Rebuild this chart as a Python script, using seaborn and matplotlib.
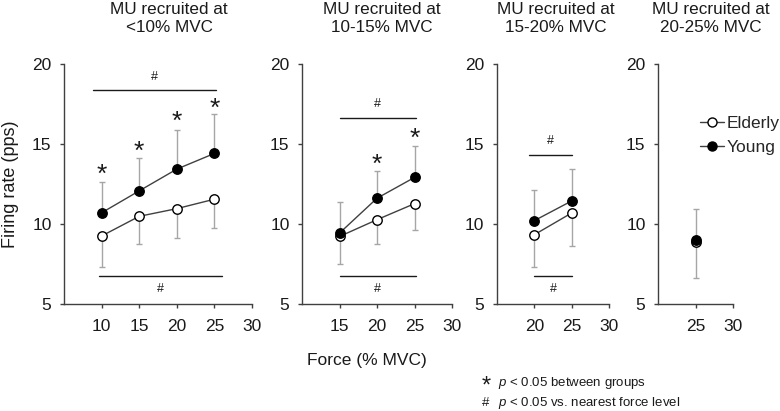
import numpy as np
import pandas as pd
import matplotlib
matplotlib.use("Agg")
import matplotlib.pyplot as plt
import seaborn as sns
from matplotlib.lines import Line2D

# 数据
panel_titles = ["MU recruited at\n<10% MVC", "MU recruited at\n10-15% MVC",
                "MU recruited at\n15-20% MVC", "MU recruited at\n20-25% MVC"]
force_levels = [[10, 15, 20, 25], [15, 20, 25], [20, 25], [25]]
x_limits = [(5, 30), (10, 30), (15, 30), (20, 30)]
young_mean = [[10.7, 12.07, 13.43, 14.41], [9.43, 11.61, 12.91], [10.21, 11.44], [9.01]]
young_sd = [[1.92, 2.07, 2.47, 2.47], [1.97, 1.69, 1.95], [1.92, 2.01], [1.93]]
elderly_mean = [[9.25, 10.48, 10.96, 11.55], [9.22, 10.27, 11.27], [9.33, 10.69], [8.85]]
elderly_sd = [[1.93, 1.76, 1.84, 1.78], [1.73, 1.55, 1.67], [2.01, 2.07], [2.22]]

# 组间差异 (*) 的位置
star_x = [[10, 15, 20, 25], [20, 25], [], []]
star_y = [[13.15, 14.6, 16.5, 17.3], [13.8, 15.44], [], []]

# 与相邻力水平差异 (#) 的横线: (x0, x1, y, 文字y)
hash_top = [(8.9, 25.2, 18.35, 19.2), (15.0, 25.2, 16.6, 17.5), (19.3, 25.0, 14.29, 15.2), None]
hash_bottom = [(9.7, 26.0, 6.74, 5.94), (15.0, 25.2, 6.74, 5.94), (20.0, 25.0, 6.74, 5.94), None]

# 样式
sns.set_style("ticks")
plt.rcParams['font.family'] = ['Liberation Sans', 'DejaVu Sans']
plt.rcParams['mathtext.fontset'] = 'custom'
plt.rcParams['mathtext.rm'] = 'Liberation Sans'
plt.rcParams['mathtext.it'] = 'Liberation Sans:italic'

W, H = 780, 411
fig = plt.figure(figsize=(7.8, 4.11), dpi=100)

ax_left_px = [64, 302, 497, 658]
ax_width_px = [188, 150, 112, 75]
ax_top_px, ax_bottom_px = 64, 304
title_x_px = [169, 382, 556, 711]

line_col = '#404040'
err_col = '#a6a6a6'
spine_col = '#404040'
txt_col = '#1a1a1a'

axes = []
for i in range(4):
    ax = fig.add_axes([ax_left_px[i] / W, 1 - ax_bottom_px / H,
                       ax_width_px[i] / W, (ax_bottom_px - ax_top_px) / H])
    axes.append(ax)

    df = pd.DataFrame({
        'force': force_levels[i] * 2,
        'rate': elderly_mean[i] + young_mean[i],
        'sd': elderly_sd[i] + young_sd[i],
        'group': ['Elderly'] * len(force_levels[i]) + ['Young'] * len(force_levels[i]),
    })
    eld = df[df.group == 'Elderly']
    yng = df[df.group == 'Young']

    # 误差线: 年轻组向上, 老年组向下
    ax.errorbar(yng.force, yng.rate, yerr=[np.zeros(len(yng)), yng.sd], fmt='none',
                ecolor=err_col, elinewidth=1, capsize=2.5, capthick=1, zorder=1)
    ax.errorbar(eld.force, eld.rate, yerr=[eld.sd, np.zeros(len(eld))], fmt='none',
                ecolor=err_col, elinewidth=1, capsize=2.5, capthick=1, zorder=1)

    sns.lineplot(data=eld, x='force', y='rate', ax=ax, color=line_col, lw=1,
                 marker='o', markersize=6.8, markerfacecolor='white',
                 markeredgecolor='black', markeredgewidth=1, zorder=3)
    sns.lineplot(data=yng, x='force', y='rate', ax=ax, color=line_col, lw=1,
                 marker='o', markersize=6.8, markerfacecolor='black',
                 markeredgecolor='black', markeredgewidth=1, zorder=4)

    # 显著性标记
    for sx, sy in zip(star_x[i], star_y[i]):
        ax.text(sx, sy - 0.1, '*', ha='center', va='center', fontsize=19, color=txt_col)
    for seg in (hash_top[i], hash_bottom[i]):
        if seg is None:
            continue
        x0, x1, y, ty = seg
        ax.plot([x0, x1], [y, y], color=txt_col, lw=1, clip_on=False)
        ax.text((x0 + x1) / 2, ty, '#', ha='center', va='center', fontsize=9, color=txt_col)

    ax.set_xlim(*x_limits[i])
    ax.set_ylim(5, 20)
    ax.set_xticks(force_levels[i] + [30])
    ax.set_yticks([5, 10, 15, 20])
    ax.set_xlabel('')
    ax.set_ylabel('')
    sns.despine(ax=ax)
    for s in ['left', 'bottom']:
        ax.spines[s].set_color(spine_col)
        ax.spines[s].set_linewidth(1)
    ax.tick_params(axis='both', direction='out', length=3, width=1, color=spine_col,
                   labelsize=12.5, labelcolor=txt_col)
    ax.tick_params(axis='x', pad=8)
    ax.tick_params(axis='y', pad=6)

    fig.text(title_x_px[i] / W, 1 - 18.5 / H, panel_titles[i], ha='center', va='center',
             fontsize=12.3, linespacing=1.3, color=txt_col)

# 坐标轴标题
fig.text(11 / W, 1 - 184 / H, 'Firing rate (pps)', rotation=90, ha='center', va='center',
         fontsize=13, color=txt_col)
fig.text(367 / W, 1 - 360 / H, 'Force (% MVC)', ha='center', va='center',
         fontsize=12.5, color=txt_col)

# 图例
handles = [Line2D([], [], color=line_col, lw=1, marker='o', markersize=6.5,
                  markerfacecolor='white', markeredgecolor='black'),
           Line2D([], [], color=line_col, lw=1, marker='o', markersize=6.5,
                  markerfacecolor='black', markeredgecolor='black')]
fig.legend(handles, ['Elderly', 'Young'], loc='upper left',
           bbox_to_anchor=(700 / W, 1 - 116 / H), frameon=False, fontsize=12.5,
           handlelength=1.4, handletextpad=0.15, labelspacing=0.5,
           borderpad=0, borderaxespad=0)

# 脚注
fig.text(486 / W, 1 - 387 / H, '*', ha='center', va='center', fontsize=17, color=txt_col)
fig.text(498 / W, 1 - 383 / H, r'$p$ < 0.05 between groups', ha='left', va='center',
         fontsize=9.5, color=txt_col)
fig.text(486 / W, 1 - 403 / H, '#', ha='center', va='center', fontsize=9.5, color=txt_col)
fig.text(498 / W, 1 - 403 / H, r'$p$ < 0.05 vs. nearest force level', ha='left', va='center',
         fontsize=9.5, color=txt_col)

fig.savefig('out.png', dpi=100)
